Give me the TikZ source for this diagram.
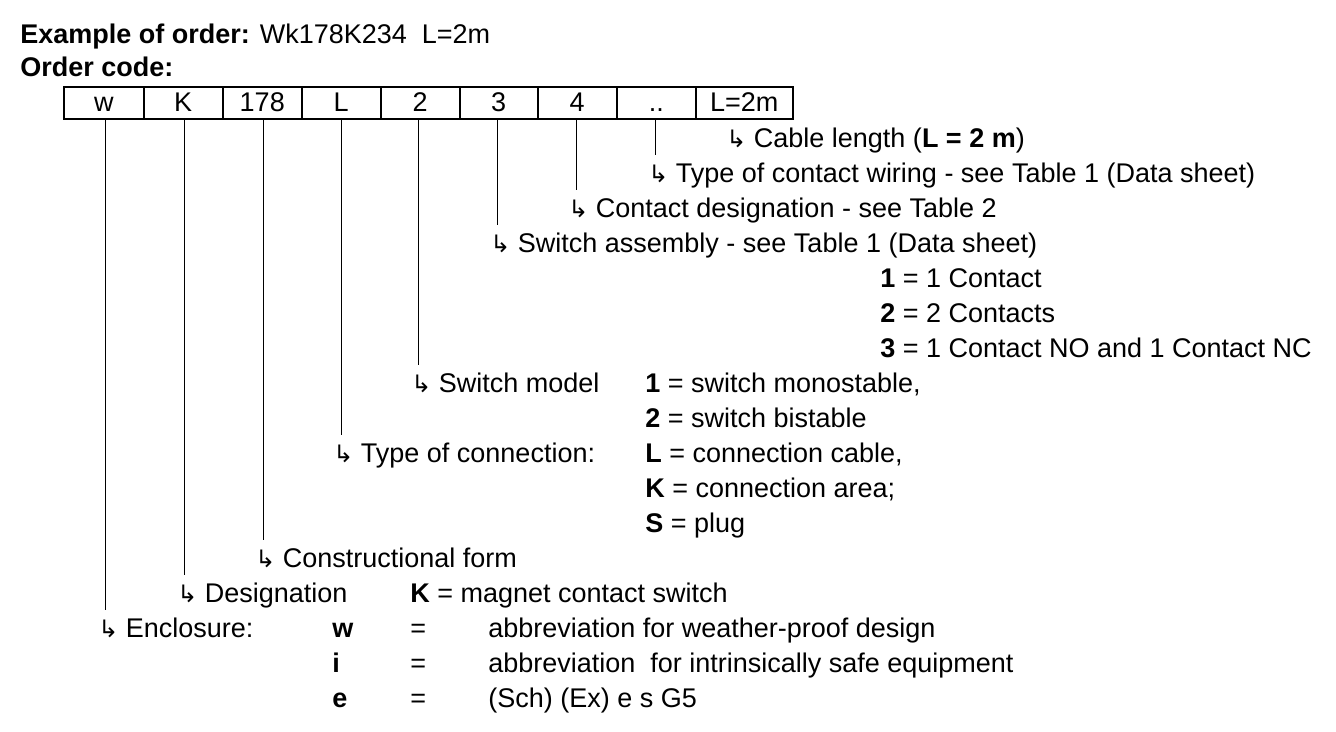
\documentclass[tikz,border=0pt]{standalone}
\usepackage{fontspec}
\setmainfont{Liberation Sans}
\newfontfamily\symfont{DejaVu Sans}
\newcommand{\hk}{{\symfont\fontsize{24}{28}\selectfont ↳}\ }

\begin{document}
\begin{tikzpicture}[%
        x = 1pt, y = -1pt,
        font = \fontsize{27}{32}\selectfont,
        line width = 0.6pt,
        codebox/.style = {draw, line width = 1.5pt, minimum height = 32pt,
            text height = 19pt, text depth = 2pt,
            inner sep = 0pt, anchor = north west},
        lbl/.style = {anchor = base west, inner sep = 0pt}
    ]
        \useasboundingbox (0, 0) rectangle (1336, 731);

        % Header lines.
        \node[lbl] (ex) at (20, 43) {\textbf{Example of order:} Wk178K234\ \ L=2m};
        \node[lbl] (oc) at (20, 76) {\textbf{Order code:}};

        % The boxes of the order code.
        \foreach \n/\x/\w/\t in {bw/63/80/w, bK/143/79/K, bnum/222/79/178,
            bL/301/79/L, btwo/380/79/2, bthree/459/78/3, bfour/537/79/4,
            bdots/616/79/.., blen/695/97/L=2m}{
            \node[codebox, minimum width = \w pt] (\n) at (\x, 86) {\t};
        }

        % Points where the leader lines end.
        \coordinate (ew) at (105, 610);
        \coordinate (eK) at (184, 575);
        \coordinate (enum) at (263, 540);
        \coordinate (eL) at (341, 435);
        \coordinate (etwo) at (418, 365);
        \coordinate (ethree) at (497, 225);
        \coordinate (efour) at (576, 190);
        \coordinate (edots) at (655, 155);

        \draw (bw.south -| ew) -- (ew);
        \draw (bK.south -| eK) -- (eK);
        \draw (bnum.south -| enum) -- (enum);
        \draw (bL.south -| eL) -- (eL);
        \draw (btwo.south -| etwo) -- (etwo);
        \draw (bthree.south -| ethree) -- (ethree);
        \draw (bfour.south -| efour) -- (efour);
        \draw (bdots.south -| edots) -- (edots);

        % Explanations.
        \node[lbl] (cable) at (726, 147) {\hk Cable length (\textbf{L = 2 m})};
        \node[lbl] (wiring) at (648, 182) {\hk Type of contact wiring - see Table 1 (Data sheet)};
        \node[lbl] (desig) at (568, 217) {\hk Contact designation - see Table 2};
        \node[lbl] (assy) at (490, 252) {\hk Switch assembly - see Table 1 (Data sheet)};
        \node[lbl] (a1) at (880, 287) {\textbf{1} = 1 Contact};
        \node[lbl] (a2) at (880, 322) {\textbf{2} = 2 Contacts};
        \node[lbl] (a3) at (880, 357) {\textbf{3} = 1 Contact NO and 1 Contact NC};
        \node[lbl] (model) at (411, 392) {\hk Switch model};
        \node[lbl] (m1) at (645, 392) {\textbf{1} = switch monostable,};
        \node[lbl] (m2) at (645, 427) {\textbf{2} = switch bistable};
        \node[lbl] (conn) at (333, 462) {\hk Type of connection:};
        \node[lbl] (c1) at (645, 462) {\textbf{L} = connection cable,};
        \node[lbl] (c2) at (645, 497) {\textbf{K} = connection area;};
        \node[lbl] (c3) at (645, 532) {\textbf{S} = plug};
        \node[lbl] (form) at (255, 567) {\hk Constructional form};
        \node[lbl] (dsg) at (177, 602) {\hk Designation};
        \node[lbl] (dsgK) at (410, 602) {\textbf{K} = magnet contact switch};
        \node[lbl] (encl) at (98, 637) {\hk Enclosure:};
        \foreach \y/\k/\t in {637/w/abbreviation for weather-proof design,
            672/i/abbreviation\ \ for intrinsically safe equipment,
            707/e/(Sch) (Ex) e s G5}{
            \node[lbl] at (332, \y) {\textbf{\k}};
            \node[lbl] at (410, \y) {=};
            \node[lbl] at (488, \y) {\t};
        }
\end{tikzpicture}
\end{document}
